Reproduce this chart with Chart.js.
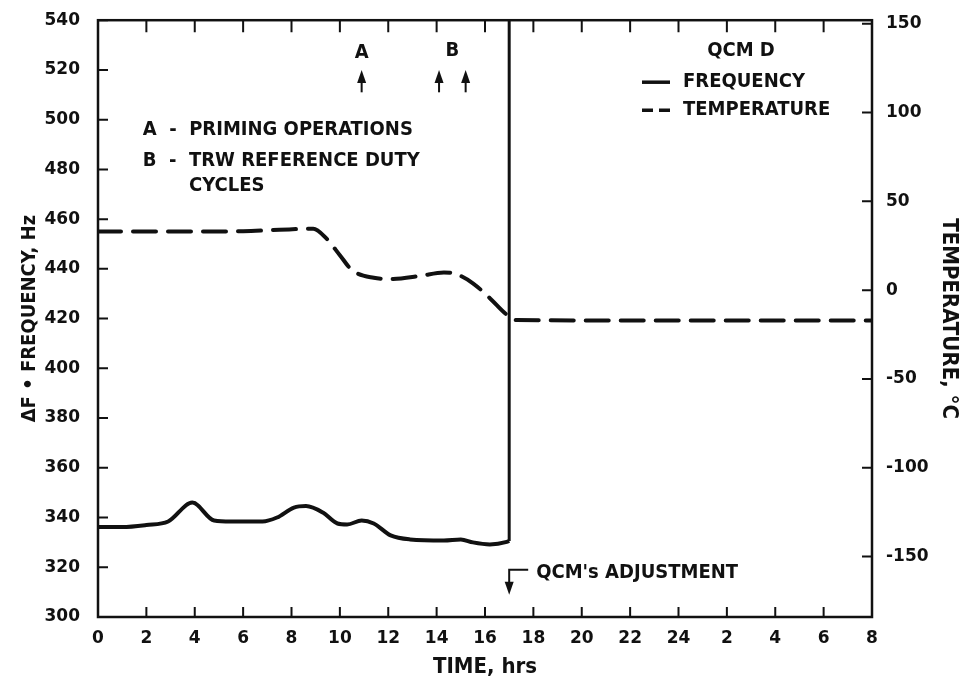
<!DOCTYPE html>
<html lang="en">
<head>
<meta charset="UTF-8" />
<title>QCM D - Frequency and Temperature</title>
<style>
  html, body { margin: 0; padding: 0; background: #fff; }
  #wrap { width: 960px; height: 686px; }
</style>
</head>
<body>
<div id="wrap"><canvas id="qcmChart" width="960" height="686"></canvas></div>

<script src="https://cdn.jsdelivr.net/npm/chart.js@4"></script>
<script>
  // --- data (time in hours from start, second day restarts the clock) ---
  const freqHours = [0, 1, 2, 2.9, 3.9, 4.8, 5.5, 6.8, 7.4, 8.1, 8.6, 9.3, 9.9, 10.3, 10.9, 11.4, 12.1, 12.9, 14.3, 15.0, 15.5, 16.2, 16.9, 17];
  const freqHz    = [336.2, 336.2, 337, 338.4, 346, 338.8, 338.4, 338.4, 340, 344, 344.6, 342, 337.6, 337.2, 338.8, 337.6, 332.8, 331.2, 330.8, 331.2, 330, 329.2, 330.2, 330.6];

  const tempHours = [0, 2, 4, 6, 7.5, 8.9, 9.45, 10, 10.5, 11.4, 12.2, 13.3, 14.3, 14.8, 15.5, 16.2, 16.9, 17.3, 20, 24, 28, 32];
  const tempC     = [33, 33, 33, 33.2, 34, 34.6, 29, 19.7, 11.3, 7, 6.3, 8, 10, 9.1, 3.9, -4.5, -13.8, -16.8, -17, -17, -17, -17];

  // frequency trace runs off scale when the QCM is adjusted
  const adjustmentHour = 17;
  const adjustmentHz = [330.6, 540];

  // event markers
  const primingHours = [10.9];
  const dutyCycleHours = [14.1, 15.2];

  const xTickValues = [0, 2, 4, 6, 8, 10, 12, 14, 16, 18, 20, 22, 24, 26, 28, 30, 32];
  const xTickLabels = ['0', '2', '4', '6', '8', '10', '12', '14', '16', '18', '20', '22', '24', '2', '4', '6', '8'];
  const tempTickValues = [-150, -100, -50, 0, 50, 100, 150];

  const INK = '#111';
  const CONDENSED = "'DejaVu Sans Condensed', 'Liberation Sans Narrow', 'DejaVu Sans', sans-serif";
  const TICK_FONT = { family: "'DejaVu Sans', sans-serif", size: 17, weight: 'bold' };

  Chart.defaults.color = INK;

  // box around the plot + tick marks pointing inwards
  const frameTicks = {
    id: 'frameTicks',
    afterDatasetsDraw(chart) {
      const { ctx, chartArea: a, scales } = chart;
      ctx.save();
      ctx.strokeStyle = INK;
      ctx.lineWidth = 2.5;
      ctx.strokeRect(a.left, a.top, a.right - a.left, a.bottom - a.top);
      ctx.lineWidth = 2;
      ctx.beginPath();
      scales.x.ticks.forEach(t => {
        const px = scales.x.getPixelForValue(t.value);
        ctx.moveTo(px, a.bottom); ctx.lineTo(px, a.bottom - 10);
        ctx.moveTo(px, a.top);    ctx.lineTo(px, a.top + 12);
      });
      scales.y.ticks.forEach(t => {
        const py = scales.y.getPixelForValue(t.value);
        ctx.moveTo(a.left, py); ctx.lineTo(a.left + 10, py);
      });
      scales.y2.ticks.forEach(t => {
        const py = scales.y2.getPixelForValue(t.value);
        ctx.moveTo(a.right, py); ctx.lineTo(a.right - 10, py);
      });
      ctx.stroke();
      ctx.restore();
    }
  };

  function upArrow(ctx, x, tip, base) {
    ctx.beginPath();
    ctx.moveTo(x, base); ctx.lineTo(x, tip + 8);
    ctx.stroke();
    ctx.beginPath();
    ctx.moveTo(x, tip); ctx.lineTo(x - 4.5, tip + 13); ctx.lineTo(x + 4.5, tip + 13);
    ctx.closePath();
    ctx.fill();
  }

  // notes, event arrows and the legend box
  const notes = {
    id: 'notes',
    afterDatasetsDraw(chart) {
      const { ctx, chartArea: a, scales: { x, y } } = chart;
      ctx.save();
      ctx.fillStyle = INK;
      ctx.strokeStyle = INK;
      ctx.lineWidth = 2;
      ctx.font = `bold 20px ${CONDENSED}`;
      ctx.textBaseline = 'middle';

      // A / B arrows
      const tip = y.getPixelForValue(520), base = y.getPixelForValue(511);
      ctx.textAlign = 'center';
      primingHours.forEach(h => upArrow(ctx, x.getPixelForValue(h), tip, base));
      dutyCycleHours.forEach(h => upArrow(ctx, x.getPixelForValue(h), tip, base));
      ctx.fillText('A', x.getPixelForValue(primingHours[0]), y.getPixelForValue(527));
      const bMid = dutyCycleHours.reduce((s, h) => s + h, 0) / dutyCycleHours.length;
      ctx.fillText('B', x.getPixelForValue(bMid), y.getPixelForValue(527.5));

      // key for the markers
      ctx.textAlign = 'left';
      const kx = x.getPixelForValue(1.85);
      ctx.fillText('A  -  PRIMING OPERATIONS', kx, y.getPixelForValue(496));
      ctx.fillText('B  -  TRW REFERENCE DUTY', kx, y.getPixelForValue(483.4));
      ctx.fillText('CYCLES', kx + ctx.measureText('B  -  ').width, y.getPixelForValue(473.4));

      // adjustment pointer
      const ax = x.getPixelForValue(adjustmentHour);
      const ay = y.getPixelForValue(319);
      ctx.beginPath();
      ctx.moveTo(ax + 19, ay); ctx.lineTo(ax, ay); ctx.lineTo(ax, ay + 14);
      ctx.stroke();
      ctx.beginPath();
      ctx.moveTo(ax, ay + 25); ctx.lineTo(ax - 4.5, ay + 12); ctx.lineTo(ax + 4.5, ay + 12);
      ctx.closePath();
      ctx.fill();
      ctx.fillText("QCM's ADJUSTMENT", ax + 27, ay + 3);

      // legend
      const lx = a.right - 230, tx = a.right - 189;
      ctx.textAlign = 'center';
      ctx.fillText('QCM D', a.right - 131, a.top + 31);
      ctx.textAlign = 'left';
      const rows = [
        { ds: chart.data.datasets[0], y: a.top + 62, dash: [] },
        { ds: chart.data.datasets[2], y: a.top + 90, dash: [11, 6] }
      ];
      rows.forEach(r => {
        ctx.save();
        ctx.lineWidth = 3.5;
        ctx.setLineDash(r.dash);
        ctx.beginPath();
        ctx.moveTo(lx, r.y); ctx.lineTo(lx + 28, r.y);
        ctx.stroke();
        ctx.restore();
        ctx.fillText(r.ds.label, tx, r.y);
      });
      ctx.restore();
    }
  };

  const ctx = document.getElementById('qcmChart').getContext('2d');
  new Chart(ctx, {
    type: 'line',
    data: {
      datasets: [
        {
          label: 'FREQUENCY',
          data: freqHours.map((h, i) => ({ x: h, y: freqHz[i] })),
          yAxisID: 'y',
          borderColor: INK,
          borderWidth: 4,
          pointRadius: 0,
          cubicInterpolationMode: 'monotone',
          borderJoinStyle: 'round',
          fill: false
        },
        {
          label: 'adjustment',
          data: adjustmentHz.map(v => ({ x: adjustmentHour, y: v })),
          yAxisID: 'y',
          borderColor: INK,
          borderWidth: 3,
          pointRadius: 0,
          tension: 0,
          fill: false
        },
        {
          label: 'TEMPERATURE',
          data: tempHours.map((h, i) => ({ x: h, y: tempC[i] })),
          yAxisID: 'y2',
          borderColor: INK,
          borderWidth: 4,
          borderDash: [23, 12],
          borderCapStyle: 'round',
          pointRadius: 0,
          cubicInterpolationMode: 'monotone',
          fill: false
        }
      ]
    },
    options: {
      responsive: false,
      animation: false,
      layout: { padding: { top: 15, left: 0, right: 0, bottom: 0 } },
      plugins: {
        legend: { display: false },
        tooltip: { enabled: false }
      },
      scales: {
        x: {
          type: 'linear',
          position: 'bottom',
          min: 0,
          max: 32,
          grid: { display: false },
          border: { display: false },
          ticks: {
            stepSize: 2,
            autoSkip: false,
            maxRotation: 0,
            padding: 3,
            font: TICK_FONT,
            callback: v => xTickLabels[xTickValues.indexOf(v)]
          },
          title: {
            display: true,
            text: 'TIME, hrs',
            font: { family: CONDENSED, size: 22, weight: 'bold' },
            padding: { bottom: 6 }
          },
          afterFit: s => { s.height = 69; }
        },
        y: {
          position: 'left',
          min: 300,
          max: 540,
          grid: { display: false },
          border: { display: false },
          ticks: { stepSize: 20, padding: 10, font: TICK_FONT },
          title: {
            display: true,
            text: 'ΔF • FREQUENCY, Hz',
            font: { family: CONDENSED, size: 20, weight: 'bold' },
            padding: { top: 18 }
          },
          afterFit: s => { s.width = 98; }
        },
        y2: {
          position: 'right',
          min: -184,
          max: 152,
          grid: { display: false },
          border: { display: false },
          ticks: { padding: 6, font: TICK_FONT },
          afterBuildTicks: s => { s.ticks = tempTickValues.map(v => ({ value: v })); },
          title: {
            display: true,
            text: 'TEMPERATURE, °C',
            font: { family: CONDENSED, size: 22, weight: 'bold', lineHeight: 1 },
            padding: { top: 0 }
          },
          afterFit: s => { s.width = 88; }
        }
      }
    },
    plugins: [frameTicks, notes]
  });
</script>
</body>
</html>
